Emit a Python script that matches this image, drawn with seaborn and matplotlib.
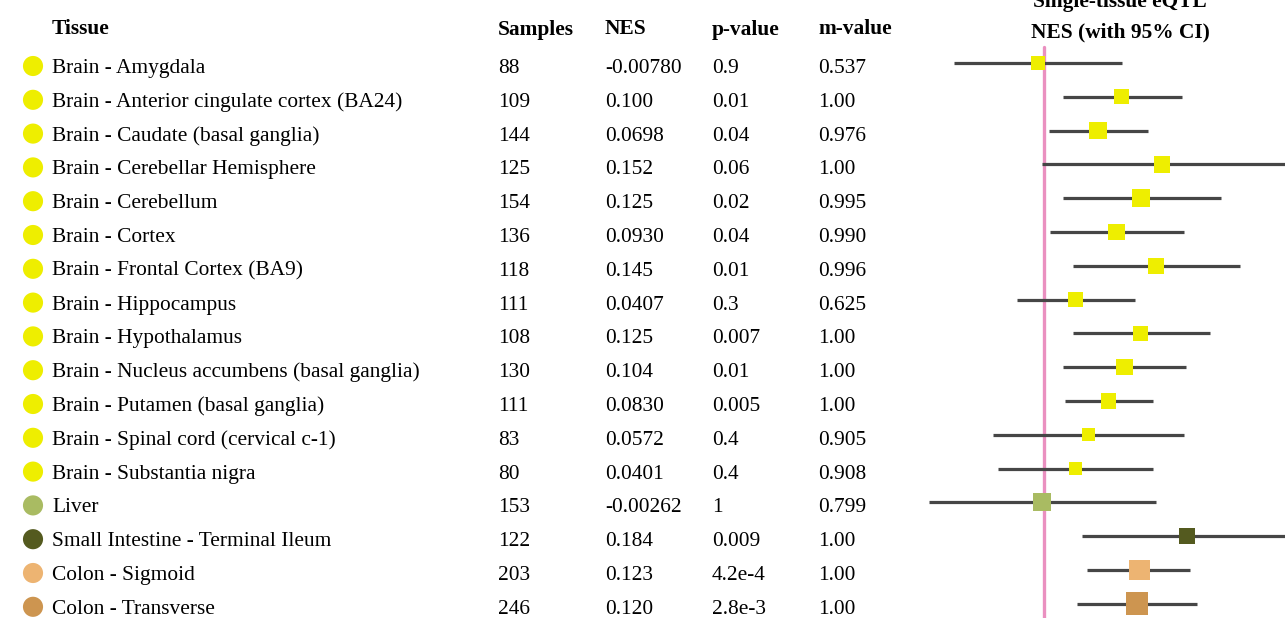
import numpy as np
import pandas as pd
import matplotlib
matplotlib.use("Agg")
import matplotlib.pyplot as plt
import seaborn as sns

# ---------------- data ----------------
tissues = [
    "Brain - Amygdala",
    "Brain - Anterior cingulate cortex (BA24)",
    "Brain - Caudate (basal ganglia)",
    "Brain - Cerebellar Hemisphere",
    "Brain - Cerebellum",
    "Brain - Cortex",
    "Brain - Frontal Cortex (BA9)",
    "Brain - Hippocampus",
    "Brain - Hypothalamus",
    "Brain - Nucleus accumbens (basal ganglia)",
    "Brain - Putamen (basal ganglia)",
    "Brain - Spinal cord (cervical c-1)",
    "Brain - Substantia nigra",
    "Liver",
    "Small Intestine - Terminal Ileum",
    "Colon - Sigmoid",
    "Colon - Transverse",
]
samples = [88, 109, 144, 125, 154, 136, 118, 111, 108, 130, 111, 83, 80, 153, 122, 203, 246]
nes = [-0.00780, 0.100, 0.0698, 0.152, 0.125, 0.0930, 0.145, 0.0407, 0.125, 0.104,
       0.0830, 0.0572, 0.0401, -0.00262, 0.184, 0.123, 0.120]
nes_labels = ["-0.00780", "0.100", "0.0698", "0.152", "0.125", "0.0930", "0.145", "0.0407",
              "0.125", "0.104", "0.0830", "0.0572", "0.0401", "-0.00262", "0.184", "0.123", "0.120"]
p_values = ["0.9", "0.01", "0.04", "0.06", "0.02", "0.04", "0.01", "0.3", "0.007", "0.01",
            "0.005", "0.4", "0.4", "1", "0.009", "4.2e-4", "2.8e-3"]
m_values = ["0.537", "1.00", "0.976", "1.00", "0.995", "0.990", "0.996", "0.625", "1.00",
            "1.00", "1.00", "0.905", "0.908", "0.799", "1.00", "1.00", "1.00"]
ci_low = [-0.116, 0.0245, 0.0065, -0.0026, 0.0245, 0.0077, 0.0374, -0.0348, 0.0374, 0.0245,
          0.027, -0.066, -0.059, -0.148, 0.049, 0.056, 0.043]
ci_high = [0.101, 0.178, 0.134, 0.320, 0.228, 0.181, 0.253, 0.117, 0.214, 0.183,
           0.141, 0.181, 0.141, 0.145, 0.330, 0.189, 0.197]
tissue_colors = ["#eeee00"] * 13 + ["#a9bb62", "#545a1f", "#edb472", "#cd9550"]
headers = ["Tissue", "Samples", "NES", "p-value", "m-value"]

# ---------------- style ----------------
sns.set_style("white")
plt.rcParams["font.family"] = ["Liberation Serif", "DejaVu Serif"]
plt.rcParams["text.color"] = "black"

W, H = 1285, 618
fig = plt.figure(figsize=(W / 100, H / 100), dpi=100)

row_top, row_step = 66.0, 33.8
df = pd.DataFrame({
    "tissue": tissues,
    "samples": samples,
    "nes": nes,
    "lo": ci_low,
    "hi": ci_high,
})
df["row"] = row_top + row_step * np.arange(len(df))
palette = dict(zip(tissues, tissue_colors))

# ---------------- table part ----------------
ax_t = fig.add_axes([0, 0, 1, 1])
ax_t.set_xlim(0, W)
ax_t.set_ylim(H, 0)
ax_t.axis("off")

df["dot_x"] = 33
sns.scatterplot(data=df, x="dot_x", y="row", hue="tissue", palette=palette,
                s=210, linewidth=0, legend=False, ax=ax_t)

fs = 15.4
col_x = [52, 498, 605, 712, 818]
header_base = 34.5
base_off = 7.0
for x, h in zip(col_x, headers):
    ax_t.text(x, header_base, h, fontsize=fs, fontweight="bold", va="baseline", ha="left",
              color="black")

for i, r in df.iterrows():
    y = r["row"] + base_off
    for x, s in zip(col_x, [tissues[i], str(samples[i]), nes_labels[i], p_values[i], m_values[i]]):
        ax_t.text(x, y, s, fontsize=fs, va="baseline", ha="left", color="black")

ax_t.text(1120, 7.5, "Single-tissue eQTL", fontsize=fs, fontweight="bold", va="baseline",
          ha="center", color="black")
ax_t.text(1120, 37.5, "NES (with 95% CI)", fontsize=fs, fontweight="bold", va="baseline",
          ha="center", color="black")

# ---------------- forest part ----------------
x0_px, px_per_unit = 1044.0, 775.0
left_px = 900.0
ax_f = fig.add_axes([left_px / W, 0, (W - left_px) / W, 1])
ax_f.set_xlim((left_px - x0_px) / px_per_unit, (W - x0_px) / px_per_unit)
ax_f.set_ylim(H + 3, 3)
ax_f.axis("off")

ax_f.axvline(0, ymin=0, ymax=(H - 47) / H, color="#ea90c0", linewidth=2.4, zorder=1)
ax_f.hlines(df["row"], df["lo"], df["hi"], color="#464646", linewidth=2.3, zorder=2)
sns.scatterplot(data=df, x="nes", y="row", hue="tissue", palette=palette,
                size="samples", sizes=(1.09 * 80, 1.09 * 246), size_norm=(80, 246),
                marker="s", linewidth=0, legend=False, ax=ax_f, zorder=3)
ax_f.set_xlabel("")
ax_f.set_ylabel("")

fig.savefig("out.png", dpi=100)
